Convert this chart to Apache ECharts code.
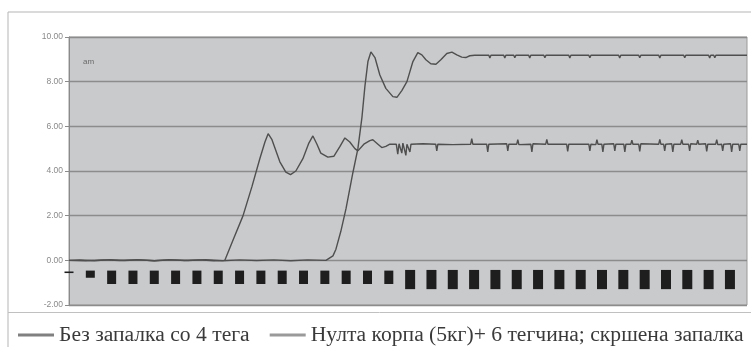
<!DOCTYPE html>
<html><head><meta charset="utf-8">
<script src="https://cdn.jsdelivr.net/npm/echarts@6/dist/echarts.min.js"></script>
<style>html,body{margin:0;padding:0;background:#fff}#c{width:751px;height:347px}</style>
</head><body><div id="c"></div>
<script>
var seriesNames = ['Без запалка со 4 тега', 'Нулта корпа (5кг)+ 6 тегчина; скршена запалка'];
var yTicks = [-2, 0, 2, 4, 6, 8, 10];

// Series 1: settles ~5.2
var seriesA = [
 [0,0],[0.5,0.02],[1.2,-0.02],[1.9,0.03],[2.6,-0.01],[3.3,0.02],[4.0,-0.02],[4.7,0.03],[5.4,-0.01],[6.1,0.02],[6.8,-0.02],[7.31,0],
 [7.69,0.9],[8.16,1.99],[8.58,3.3],[8.95,4.55],[9.19,5.3],[9.34,5.67],[9.52,5.4],[9.89,4.41],[10.17,3.95],[10.39,3.84],[10.64,4.0],
 [10.97,4.55],[11.25,5.25],[11.44,5.57],[11.63,5.2],[11.81,4.8],[12.14,4.62],[12.42,4.66],[12.71,5.1],[12.94,5.48],[13.17,5.3],
 [13.41,5.0],[13.55,4.9],[13.83,5.2],[14.11,5.36],[14.25,5.4],[14.49,5.2],[14.67,5.05],[14.86,5.1],[15.05,5.2],
 [15.35,5.2],[15.42,4.75],[15.48,5.22],[15.56,5.2],[15.61,4.8],[15.66,5.25],[15.75,5.18],[15.80,4.7],[15.85,5.2],[15.94,5.22],[15.99,4.85],[16.04,5.2],
 [16.6,5.22],[17.2,5.2],[17.25,4.9],[17.3,5.2],[18.0,5.18],[18.84,5.2],[18.89,5.45],[18.94,5.2],[19.59,5.2],[19.64,4.85],[19.69,5.2],
 [20.53,5.22],[20.58,4.9],[20.63,5.2],[21.0,5.2],[21.05,5.4],[21.1,5.18],[21.66,5.2],[21.71,4.85],[21.76,5.22],[22.36,5.2],[22.41,5.42],[22.46,5.2],
 [23.34,5.2],[23.39,4.88],[23.44,5.2],[24.38,5.2],[24.43,4.9],[24.48,5.2],[24.71,5.18],[24.76,5.4],[24.81,5.2],[24.99,5.2],[25.04,4.85],[25.09,5.2],
 [25.55,5.22],[25.6,4.9],[25.65,5.2],[26.02,5.2],[26.07,4.85],[26.12,5.2],[26.35,5.2],[26.4,5.38],[26.45,5.2],[26.72,5.2],[26.77,4.88],[26.82,5.22],
 [27.66,5.2],[27.71,5.42],[27.76,5.2],[27.89,5.2],[27.94,4.9],[27.99,5.2],[28.27,5.22],[28.32,4.86],[28.37,5.2],[28.69,5.2],[28.74,5.4],[28.79,5.2],
 [29.06,5.2],[29.11,4.9],[29.16,5.22],[29.44,5.2],[29.49,5.38],[29.54,5.2],[29.86,5.22],[29.91,4.88],[29.96,5.2],[30.33,5.2],[30.38,5.4],[30.43,5.18],
 [30.61,5.2],[30.66,4.9],[30.71,5.2],[31.03,5.22],[31.08,4.85],[31.13,5.2],[31.41,5.2],[31.46,4.9],[31.51,5.2],[31.8,5.2]
];

// Series 2: settles ~9.2
var seriesB = [
 [0,0],[0.8,-0.02],[1.6,0.02],[2.4,-0.01],[3.2,0.03],[4.0,-0.02],[4.8,0.02],[5.6,-0.01],[6.4,0.03],[7.2,-0.02],[8.0,0.02],[8.8,-0.01],
 [9.6,0.02],[10.4,-0.02],[11.2,0.02],[12.05,0],
 [12.38,0.2],[12.52,0.5],[12.75,1.3],[12.99,2.3],[13.31,3.9],[13.55,5.0],[13.74,6.4],[13.88,7.8],[14.02,8.9],[14.16,9.33],[14.35,9.08],
 [14.58,8.3],[14.86,7.7],[15.19,7.33],[15.38,7.3],[15.61,7.6],[15.85,8.0],[16.13,8.9],[16.36,9.3],[16.55,9.2],[16.74,8.98],[16.97,8.8],
 [17.21,8.78],[17.44,8.98],[17.72,9.26],[17.96,9.32],[18.19,9.2],[18.42,9.1],[18.61,9.08],[18.80,9.16],[19.03,9.18],
 [19.69,9.18],[19.74,9.06],[19.79,9.18],[20.39,9.18],[20.44,9.06],[20.49,9.18],[20.86,9.18],[20.91,9.07],[20.96,9.18],
 [21.56,9.18],[21.61,9.06],[21.66,9.18],[22.27,9.18],[22.32,9.07],[22.37,9.18],[23.44,9.18],[23.49,9.06],[23.54,9.18],
 [24.38,9.18],[24.43,9.07],[24.48,9.18],[25.78,9.18],[25.83,9.06],[25.88,9.18],[26.72,9.18],[26.77,9.07],[26.82,9.18],
 [27.66,9.18],[27.71,9.06],[27.76,9.18],[28.83,9.18],[28.88,9.07],[28.93,9.18],[30.0,9.18],[30.05,9.06],[30.1,9.18],
 [30.24,9.18],[30.29,9.07],[30.34,9.18],[31.8,9.18]
];

// Black marker bars below zero
var barPos = [0,1,2,3,4,5,6,7,8,9,10,11,12,13,14,15,16,17,18,19,20,21,22,23,24,25,26,27,28,29,30,31];
var barTop = [-0.5,-0.46,-0.46,-0.46,-0.46,-0.46,-0.46,-0.46,-0.46,-0.46,-0.46,-0.46,-0.46,-0.46,-0.46,-0.46,
              -0.43,-0.43,-0.43,-0.43,-0.43,-0.43,-0.43,-0.43,-0.43,-0.43,-0.43,-0.43,-0.43,-0.43,-0.43,-0.43];
var barBottom = [-0.57,-0.78,-1.06,-1.06,-1.06,-1.06,-1.06,-1.06,-1.06,-1.06,-1.06,-1.06,-1.06,-1.06,-1.06,-1.06,
                 -1.29,-1.29,-1.29,-1.29,-1.29,-1.29,-1.29,-1.29,-1.29,-1.29,-1.29,-1.29,-1.29,-1.29,-1.29,-1.29];

var barData = barPos.map(function(t,i){ return [t, barTop[i], barBottom[i]]; });

var chart = echarts.init(document.getElementById('c'));
chart.setOption({
  animation: false,
  backgroundColor: '#fff',
  grid: { left: 69, top: 37, right: 4, bottom: 42, show: true, backgroundColor: '#c9cacc', borderColor: '#9a9a9a', borderWidth: 1 },
  xAxis: { type: 'value', min: 0, max: 31.8, show: false },
  yAxis: {
    type: 'value', min: yTicks[0], max: yTicks[yTicks.length-1], interval: 2,
    axisLine: { show: true, lineStyle: { color: '#8a8a8a' } },
    axisTick: { show: true, length: 4, lineStyle: { color: '#8a8a8a' } },
    axisLabel: { fontSize: 8.5, color: '#8a8a8a', margin: 6, fontFamily: 'Liberation Sans', formatter: function(v){ return v.toFixed(2); } },
    splitLine: { show: true, lineStyle: { color: '#8c8c8c', width: 1.4 } }
  },
  legend: {
    left: 13, top: 319, itemWidth: 36, itemHeight: 3, itemGap: 20, icon: 'rect',
    textStyle: { fontFamily: 'Liberation Serif', fontSize: 21.6, color: '#3a3a3a' },
    data: seriesNames
  },
  graphic: [
    { type: 'rect', shape: { x: 8, y: 12, width: 800, height: 400 }, style: { fill: 'none', stroke: '#b5b5b5', lineWidth: 1 }, silent: true },
    { type: 'line', shape: { x1: 8, y1: 312.5, x2: 751, y2: 312.5 }, style: { stroke: '#c0c0c0', lineWidth: 1 }, silent: true },
    { type: 'text', left: 83, top: 58, style: { text: 'am', fontSize: 8, fill: '#6a6a6a', fontFamily: 'Liberation Sans' }, silent: true }
  ],
  series: [
    { name: seriesNames[0], type: 'line', data: seriesA, showSymbol: false, symbol: 'none', color: '#808080',
      lineStyle: { color: '#4f4f4f', width: 1.4 }, z: 3 },
    { name: seriesNames[1], type: 'line', data: seriesB, showSymbol: false, symbol: 'none', color: '#9a9a9a',
      lineStyle: { color: '#4f4f4f', width: 1.4 }, z: 3 },
    { type: 'custom', data: barData, clip: false, z: 4,
      renderItem: function(params, api){
        var t = api.value(0);
        var p1 = api.coord([t, api.value(1)]);
        var p2 = api.coord([t, api.value(2)]);
        var w = params.dataIndex >= 16 ? 10 : 9;
        return { type: 'rect', shape: { x: p1[0]-w/2, y: p1[1], width: w, height: p2[1]-p1[1] }, style: { fill: '#1e1e1e' } };
      }
    }
  ]
});
</script></body></html>
